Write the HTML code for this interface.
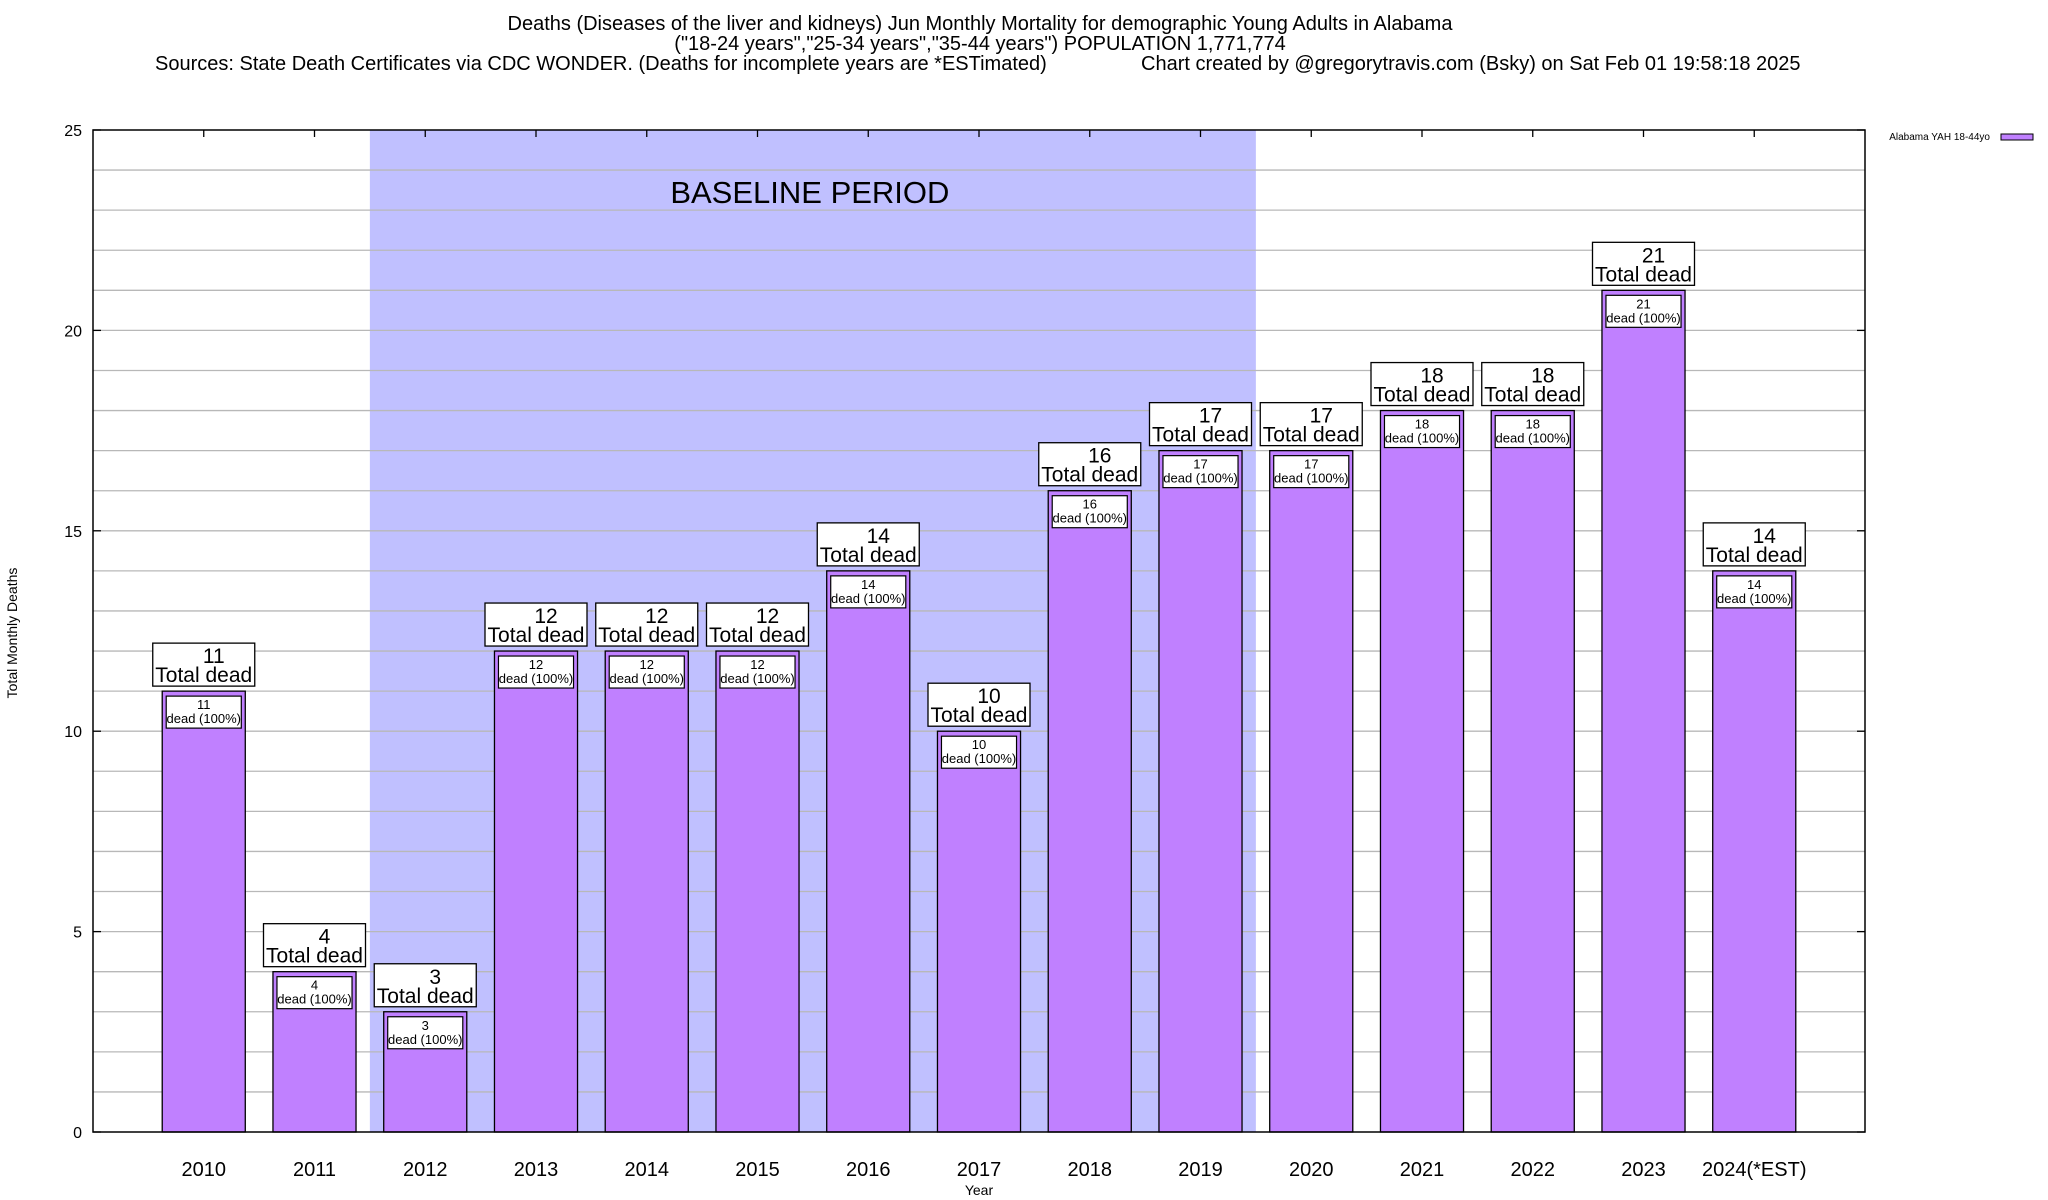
<!DOCTYPE html>
<html><head><meta charset="utf-8"><style>
body{margin:0;background:#fff;}
svg{display:block;font-family:"Liberation Sans",Arial,sans-serif;}
</style></head><body>
<svg id="chart" width="2048" height="1200" viewBox="0 0 2048 1200">
<g font-size="20" fill="#000">
<text x="980" y="30" text-anchor="middle">Deaths (Diseases of the liver and kidneys) Jun Monthly Mortality for demographic Young Adults in Alabama</text>
<text x="980" y="50" text-anchor="middle">("18-24 years","25-34 years","35-44 years") POPULATION 1,771,774</text>
<text x="155" y="70">Sources: State Death Certificates via CDC WONDER. (Deaths for incomplete years are *ESTimated)</text>
<text x="1141" y="70">Chart created by @gregorytravis.com (Bsky) on Sat Feb 01 19:58:18 2025</text>
</g>
<g id="plot"></g>
<text x="17" y="633" transform="rotate(-90 17 633)" text-anchor="middle" font-size="14">Total Monthly Deaths</text>
<text x="979" y="1195" text-anchor="middle" font-size="14">Year</text>
<g>
<text x="1990" y="140" text-anchor="end" font-size="10">Alabama YAH 18-44yo</text>
<rect x="2001" y="134" width="32" height="6" fill="#c080ff" stroke="#000" stroke-width="1"/>
</g>
</svg>
<script>
const categories=["2010","2011","2012","2013","2014","2015","2016","2017","2018","2019","2020","2021","2022","2023","2024(*EST)"];
const deaths=[11,4,3,12,12,12,14,10,16,17,17,18,18,21,14];
const yTicks=[0,5,10,15,20,25];
const baselineStart=1.5, baselineEnd=9.5;
const L=93,R=1865,T=130,B=1132;
const xMin=-1,xMax=15,yMax=25;
function X(v){return L+(v-xMin)/(xMax-xMin)*(R-L);}
function Y(v){return B-v/yMax*(B-T);}
const NS="http://www.w3.org/2000/svg";
const g=document.getElementById('plot');
function el(tag,attrs,parent){const e=document.createElementNS(NS,tag);for(const k in attrs)e.setAttribute(k,attrs[k]);(parent||g).appendChild(e);return e;}
const sh=el('rect',{x:X(baselineStart),y:T,width:X(baselineEnd)-X(baselineStart),height:B-T,fill:'#c0c0ff'});


const bt=el('text',{x:(X(baselineStart)+X(baselineEnd))/2-3,y:203,'text-anchor':'middle','font-size':31});
bt.textContent='BASELINE PERIOD';


for(let v=1;v<yMax;v++){
  const ln=el('line',{x1:L,x2:R,y1:Y(v),y2:Y(v),stroke:'#b8b8b8','stroke-width':1.3});
  
  
}
yTicks.forEach(v=>{
  const t=el('text',{x:82,y:Y(v)+6,'text-anchor':'end','font-size':16});
  t.textContent=v;
  
  
  el('line',{x1:L,x2:L+8,y1:Y(v),y2:Y(v),stroke:'#000','stroke-width':1.3});
  el('line',{x1:R-8,x2:R,y1:Y(v),y2:Y(v),stroke:'#000','stroke-width':1.3});
});
const bw=0.75*(X(1)-X(0));
categories.forEach((c,i)=>{
  const cx=X(i), v=deaths[i];
  el('line',{x1:cx,x2:cx,y1:T,y2:T+7,stroke:'#000','stroke-width':1.3});
  const b=el('rect',{x:cx-bw/2,y:Y(v),width:bw,height:B-Y(v),fill:'#c080ff',stroke:'#000','stroke-width':1.3});
  
  
  const ib=el('rect',{x:cx-bw/2+4,y:Y(v)+5,width:bw-8,height:32,fill:'#fff',stroke:'#000','stroke-width':1.2});
  
  
  const t1=el('text',{x:cx,y:Y(v)+18,'text-anchor':'middle','font-size':13});t1.textContent=v;
  
  
  const t2=el('text',{x:cx,y:Y(v)+32,'text-anchor':'middle','font-size':13});t2.textContent='dead (100%)';
  
  
  const by=Y(v)-48;
  const ob=el('rect',{x:cx-51,y:by,width:102,height:43,fill:'#fff',stroke:'#000','stroke-width':1.3});
  
  
  const o1=el('text',{x:cx+10,y:by+20,'text-anchor':'middle','font-size':21});o1.textContent=v;
  
  
  const o2=el('text',{x:cx,y:by+39,'text-anchor':'middle','font-size':21});o2.textContent='Total dead';
  
  
  const xl=el('text',{x:cx,y:1176,'text-anchor':'middle','font-size':20});xl.textContent=c;
  
  
});
const fr=el('rect',{x:L,y:T,width:R-L,height:B-T,fill:'none',stroke:'#000','stroke-width':1.5});


</script>
</body></html>
